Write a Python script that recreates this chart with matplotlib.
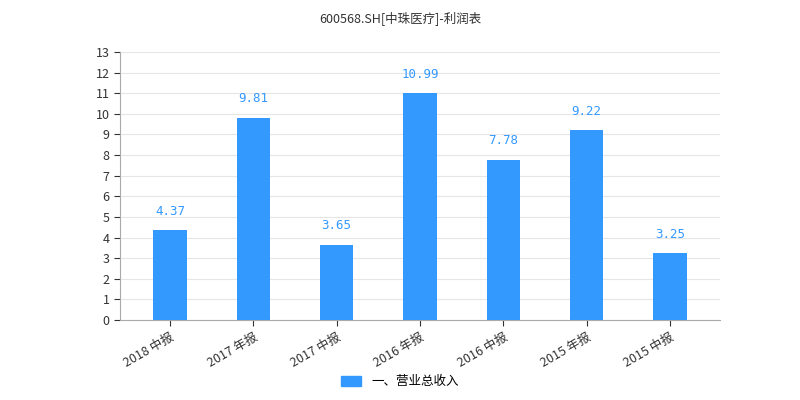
import matplotlib
matplotlib.use("Agg")
import matplotlib.pyplot as plt
from matplotlib.patches import Patch

plt.rcParams['font.family'] = ['Noto Sans CJK SC', 'DejaVu Sans']

categories = ["2018 中报", "2017 年报", "2017 中报", "2016 年报", "2016 中报", "2015 年报", "2015 中报"]
values = [4.37, 9.81, 3.65, 10.99, 7.78, 9.22, 3.25]
series_name = "一、营业总收入"
title = "600568.SH[中珠医疗]-利润表"

color = "#3399FF"
fig = plt.figure(figsize=(8, 4), dpi=100)
ax = fig.add_axes([0.15, 0.2, 0.75, 0.67])
x = list(range(len(categories)))
ax.bar(x, values, width=0.4, color=color, zorder=3)
for xi, v in zip(x, values):
    ax.text(xi, v + 0.6, f"{v:.2f}", ha="center", va="bottom", color="#3399FF",
            fontsize=9, family=["DejaVu Sans Mono"])
ax.set_ylim(0, 13)
ax.set_yticks(range(0, 14))
ax.set_xlim(-0.6, len(categories) - 0.4)
ax.set_xticks(x)
ax.set_xticklabels(categories, rotation=30, ha="right", rotation_mode="anchor", fontsize=9, color="#333333")
ax.tick_params(axis="y", labelsize=9, colors="#333333", length=4)
ax.tick_params(axis="x", length=4, colors="#333333")
ax.grid(axis="y", color="#e6e6e6", linewidth=0.8, zorder=0)
for s in ["top", "right"]:
    ax.spines[s].set_visible(False)
ax.spines["left"].set_color("#aaaaaa")
ax.spines["bottom"].set_color("#aaaaaa")
fig.text(0.5, 0.955, title, ha="center", va="center", fontsize=9, color="#333333")
fig.legend(handles=[Patch(color=color, label=series_name)], loc="center", bbox_to_anchor=(0.5, 0.045),
           frameon=False, fontsize=9, handlelength=1.6, handleheight=0.9)
fig.savefig("out.png", dpi=100)
